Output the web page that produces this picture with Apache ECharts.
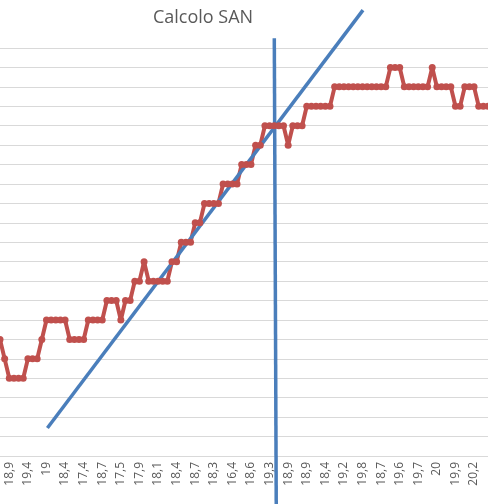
<!DOCTYPE html>
<html><head><meta charset="utf-8">
<script src="https://cdn.jsdelivr.net/npm/echarts@6/dist/echarts.min.js"></script>
<style>html,body{margin:0;padding:0;background:#fff}#c{width:488px;height:504px}</style>
</head><body><div id="c"></div>
<script>
var tickLabels = ['18,9','19,4','19','18,4','17,4','18,7','17,5','17,9','18,1','18,4','18,7','18,3','16,4','18,6','19,3','18,9','18,9','18,4','19,2','19,8','18,7','19,6','19,7','20','19,9','20,2'];
var sanValues = [6,5,4,4,4,4,5,5,5,6,
  7,7,7,7,7,6,6,6,6,7,
  7,7,7,8,8,8,7,8,8,9,
  9,10,9,9,9,9,9,10,10,11,
  11,11,12,12,13,13,13,13,14,14,
  14,14,15,15,15,16,16,17,17,17,
  17,17,16,17,17,17,18,18,18,18,
  18,18,19,19,19,19,19,19,19,19,
  19,19,19,19,20,20,20,19,19,19,
  19,19,19,20,19,19,19,19,18,18,
  19,19,19,18,18,18];
var diagLine = [[10.2,1.44],[78.1,22.95]];
var vertLine = [[59.02,21.5],[59.44,-2.5]];
var cats = sanValues.map(function(v,i){ return (i%4===2) ? tickLabels[(i-2)/4] : ''; });
var chart = echarts.init(document.getElementById('c'));
chart.setOption({
  animation:false,
  title:{text:'Calcolo SAN',left:198,top:4,textAlign:'center',textStyle:{fontFamily:'Open Sans',fontSize:18,fontWeight:'normal',color:'#595959'}},
  grid:{left:-4,right:-9,top:48,bottom:48},
  xAxis:[{type:'category',data:cats,boundaryGap:false,
    axisLine:{lineStyle:{color:'#d9d9d9'}},axisTick:{show:false},
    axisLabel:{interval:0,rotate:90,color:'#595959',fontSize:12,fontFamily:'Open Sans',margin:6}},
    {type:'value',min:0,max:105,show:false}],
  yAxis:{type:'value',min:0,max:21,interval:1,axisLabel:{show:false},axisLine:{show:false},axisTick:{show:false},
    splitLine:{lineStyle:{color:'#d9d9d9',width:1}}},
  series:[
    {type:'line',data:sanValues,step:false,symbol:'circle',symbolSize:7,
      lineStyle:{color:'#c0504d',width:4},itemStyle:{color:'#c0504d'}},
    {type:'line',xAxisIndex:1,data:diagLine,symbol:'none',clip:false,lineStyle:{color:'#4a7ebb',width:3.5}},
    {type:'line',xAxisIndex:1,data:vertLine,symbol:'none',clip:false,lineStyle:{color:'#4a7ebb',width:3.5}}
  ]
});
</script></body></html>
